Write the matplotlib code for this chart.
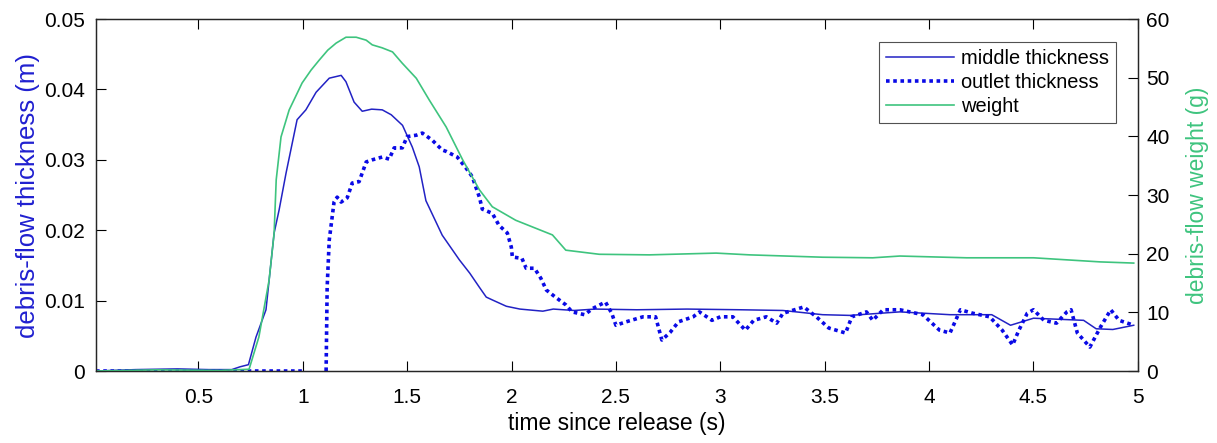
import numpy as np
import matplotlib.pyplot as plt
from matplotlib.ticker import FuncFormatter

plt.rcParams['font.family'] = ['Liberation Sans', 'DejaVu Sans']

# middle thickness (m)
t_middle = [0.01, 0.2, 0.4, 0.55, 0.66, 0.70, 0.74, 0.776, 0.824, 0.863, 0.887, 0.92, 0.973,
            1.015, 1.064, 1.127, 1.184, 1.207, 1.246, 1.285, 1.33, 1.381, 1.424, 1.478, 1.525,
            1.558, 1.59, 1.668, 1.75, 1.80, 1.846, 1.879, 1.908, 1.975, 2.04, 2.15, 2.2, 2.3,
            2.4, 2.6, 2.84, 3.1, 3.3, 3.49, 3.62, 3.86, 4.10, 4.30, 4.39, 4.50, 4.74, 4.80,
            4.88, 4.98]
middle = [0.0, 0.0002, 0.0003, 0.0002, 0.0002, 0.0006, 0.0009, 0.0048, 0.0087, 0.0196, 0.0229,
          0.0281, 0.0357, 0.0371, 0.0396, 0.0416, 0.0420, 0.0411, 0.0382, 0.0369, 0.0372, 0.0371,
          0.0364, 0.0349, 0.0318, 0.0290, 0.0242, 0.0193, 0.0158, 0.0139, 0.0119, 0.0105, 0.0101,
          0.0092, 0.0088, 0.0085, 0.0088, 0.0086, 0.0088, 0.0087, 0.0088, 0.0087, 0.0086, 0.0080,
          0.0079, 0.0084, 0.0080, 0.0080, 0.0065, 0.0075, 0.0072, 0.0060, 0.0059, 0.0065]

# outlet thickness (m)
t_outlet = [0.01, 0.5, 1.0, 1.06, 1.112, 1.117, 1.127, 1.15, 1.165, 1.184, 1.213, 1.237, 1.27,
            1.304, 1.333, 1.381, 1.414, 1.438, 1.477, 1.50, 1.544, 1.573, 1.62, 1.668, 1.687,
            1.74, 1.783, 1.812, 1.846, 1.86, 1.908, 1.94, 1.98, 1.999, 2.004, 2.05, 2.07, 2.11,
            2.14, 2.167, 2.21, 2.26, 2.29, 2.35, 2.39, 2.45, 2.48, 2.50, 2.55, 2.63, 2.69, 2.72,
            2.76, 2.80, 2.87, 2.90, 2.96, 3.00, 3.06, 3.12, 3.16, 3.22, 3.27, 3.30, 3.40, 3.46,
            3.52, 3.60, 3.63, 3.70, 3.73, 3.78, 3.86, 3.97, 4.05, 4.10, 4.15, 4.21, 4.29, 4.35,
            4.40, 4.43, 4.47, 4.50, 4.55, 4.61, 4.66, 4.68, 4.71, 4.77, 4.82, 4.87, 4.91, 4.98]
outlet = [0.0, 0.0, 0.0, np.nan, 0.0, 0.0119, 0.0186, 0.0240, 0.0247, 0.0240, 0.0246, 0.0267,
          0.0269, 0.0297, 0.0300, 0.0304, 0.0301, 0.0317, 0.0317, 0.0333, 0.0335, 0.0338, 0.0328,
          0.0314, 0.0312, 0.0304, 0.0288, 0.0276, 0.0247, 0.0230, 0.0224, 0.0207, 0.0196, 0.0176,
          0.0162, 0.0160, 0.0146, 0.0146, 0.0132, 0.0115, 0.0105, 0.0094, 0.0084, 0.0080, 0.0089,
          0.0098, 0.0082, 0.0065, 0.0070, 0.0077, 0.0077, 0.0044, 0.0055, 0.0070, 0.0077, 0.0084,
          0.0072, 0.0077, 0.0077, 0.0058, 0.0072, 0.0077, 0.0068, 0.0082, 0.0091, 0.0077, 0.0061,
          0.0054, 0.0077, 0.0084, 0.0072, 0.0087, 0.0087, 0.0080, 0.0058, 0.0054, 0.0087, 0.0082,
          0.0077, 0.0058, 0.0037, 0.0058, 0.0082, 0.0087, 0.0072, 0.0068, 0.0084, 0.0087, 0.0054,
          0.0034, 0.0062, 0.0087, 0.0072, 0.0065]

# weight (g)
t_weight = [0.01, 0.3, 0.6, 0.743, 0.79, 0.839, 0.863, 0.873, 0.896, 0.935, 0.997, 1.04, 1.079,
            1.12, 1.16, 1.207, 1.256, 1.304, 1.333, 1.38, 1.43, 1.476, 1.544, 1.606, 1.687,
            1.766, 1.846, 1.908, 2.02, 2.196, 2.26, 2.42, 2.66, 2.98, 3.14, 3.49, 3.73, 3.86,
            4.18, 4.50, 4.82, 4.98]
weight = [0.0, 0.2, 0.1, 0.3, 5.8, 15.5, 23.5, 32.6, 39.9, 44.5, 49.1, 51.3, 53.0, 54.7, 55.9,
          56.9, 56.9, 56.4, 55.6, 55.1, 54.4, 52.5, 49.9, 46.2, 41.6, 36.0, 30.9, 28.0, 25.7,
          23.2, 20.6, 19.9, 19.8, 20.1, 19.8, 19.4, 19.3, 19.6, 19.3, 19.3, 18.6, 18.4]

blue_mid = '#2222c4'
blue_out = '#0a0ae6'
green = '#3ec47e'

fig = plt.figure(figsize=(12.17, 4.43), dpi=100)
ax = fig.add_axes([0.0789, 0.1625, 0.8561, 0.7945])
ax2 = ax.twinx()

l1, = ax.plot(t_middle, middle, color=blue_mid, lw=1.1, label='middle thickness')
l2, = ax.plot(t_outlet, outlet, color=blue_out, lw=2.6, linestyle=(0, (1, 1)),
              label='outlet thickness')
l3, = ax2.plot(t_weight, weight, color=green, lw=1.2, label='weight')

ax.set_xlim(0.01, 5)
ax.set_ylim(0, 0.05)
ax2.set_ylim(0, 60)
ax.set_xticks([0.5, 1, 1.5, 2, 2.5, 3, 3.5, 4, 4.5, 5])
ax.set_yticks([0, 0.01, 0.02, 0.03, 0.04, 0.05])
ax2.set_yticks([0, 10, 20, 30, 40, 50, 60])
fmt = FuncFormatter(lambda v, p: '%g' % v)
ax.xaxis.set_major_formatter(fmt)
ax.yaxis.set_major_formatter(fmt)

ax.tick_params(axis='x', direction='in', length=7, top=True, labelsize=15, pad=12)
ax.tick_params(axis='y', direction='in', length=7, labelsize=15, pad=8)
ax2.tick_params(axis='y', direction='in', length=7, labelsize=15, pad=6)

ax.set_xlabel('time since release (s)', fontsize=16.5, labelpad=4)
ax.set_ylabel('debris-flow thickness (m)', fontsize=18.5, color='#2020d0', labelpad=3)
ax2.set_ylabel('debris-flow weight (g)', fontsize=16.5, color=green, labelpad=12)

for a in (ax, ax2):
    for s in a.spines.values():
        s.set_color('#262626')
        s.set_linewidth(0.9)

leg = ax.legend(handles=[l1, l2, l3], loc='upper right', bbox_to_anchor=(0.979, 0.935),
                fontsize=14.4, frameon=True, fancybox=False, borderaxespad=0,
                handlelength=3.4, handletextpad=0.35, labelspacing=0.25, borderpad=0.35)
leg.get_frame().set_edgecolor('#262626')
leg.get_frame().set_linewidth(0.8)

plt.savefig('out.png', dpi=100)
